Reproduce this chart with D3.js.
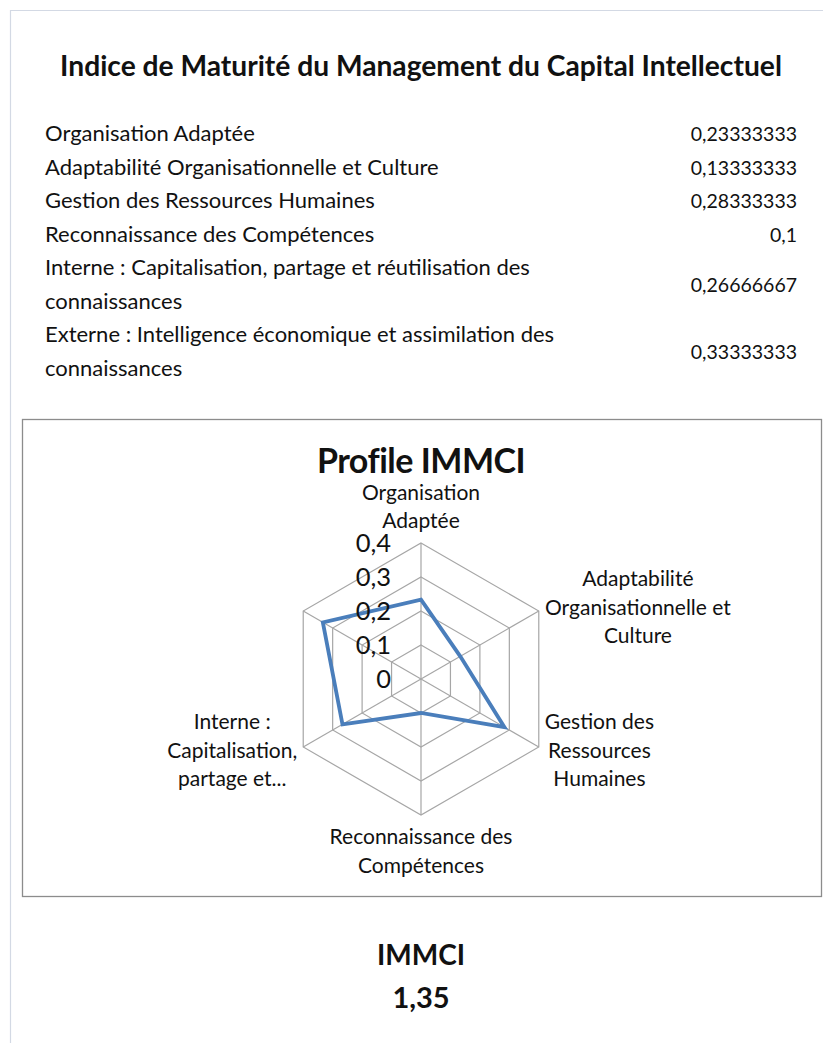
<!DOCTYPE html>
<html>
<head>
<meta charset="utf-8">
<script src="https://cdn.jsdelivr.net/npm/d3@7"></script>
<style>
  html, body { margin: 0; padding: 0; background: #fff; }
  svg { display: block; }
  text { font-family: Lato, "Open Sans", sans-serif; fill: #111; }
</style>
</head>
<body>
<svg id="chart" width="823" height="1043"></svg>
<script>
// ---------- DATA ----------
const pageTitle = "Indice de Maturité du Management du Capital Intellectuel";
const categories = [
  "Organisation Adaptée",
  "Adaptabilité Organisationnelle et Culture",
  "Gestion des Ressources Humaines",
  "Reconnaissance des Compétences",
  "Interne : Capitalisation, partage et réutilisation des connaissances",
  "Externe : Intelligence économique et assimilation des connaissances"
];
const tableLines = [
  ["Organisation Adaptée"],
  ["Adaptabilité Organisationnelle et Culture"],
  ["Gestion des Ressources Humaines"],
  ["Reconnaissance des Compétences"],
  ["Interne : Capitalisation, partage et réutilisation des", "connaissances"],
  ["Externe : Intelligence économique et assimilation des", "connaissances"]
];
const values = [0.23333333, 0.13333333, 0.28333333, 0.1, 0.26666667, 0.33333333];
const valueLabels = ["0,23333333", "0,13333333", "0,28333333", "0,1", "0,26666667", "0,33333333"];
const chartTitle = "Profile IMMCI";
const axisLabels = [
  ["Organisation", "Adaptée"],
  ["Adaptabilité", "Organisationnelle et", "Culture"],
  ["Gestion des", "Ressources", "Humaines"],
  ["Reconnaissance des", "Compétences"],
  ["Interne :", "Capitalisation,", "partage et..."],
  []
];
const ticks = [0, 0.1, 0.2, 0.3, 0.4];
const tickLabels = ["0", "0,1", "0,2", "0,3", "0,4"];
const totalLabel = "IMMCI";
const totalValue = "1,35";

// ---------- DRAW ----------
const svg = d3.select("#chart");
svg.append("rect").attr("width", 823).attr("height", 1043).attr("fill", "#fff");

// sheet frame
svg.append("path").attr("d", "M10.5,1043 V10.5 H823")
  .attr("fill", "none").attr("stroke", "#d3d9e4").attr("stroke-width", 1.2);

// page title
svg.append("text").attr("x", 421).attr("y", 76)
  .attr("text-anchor", "middle").attr("font-weight", "bold")
  .attr("font-size", 28.2).text(pageTitle);

// table
const rowY = d3.scaleLinear().domain([0, 1]).range([141, 174.5]); // line index -> baseline
let line = 0;
const table = svg.append("g");
tableLines.forEach((lines, i) => {
  const first = line;
  lines.forEach(t => {
    table.append("text").attr("x", 45).attr("y", rowY(line))
      .attr("font-size", 22).text(t);
    line++;
  });
  const mid = (rowY(first) + rowY(line - 1)) / 2;
  table.append("text").attr("x", 797).attr("y", mid)
    .attr("text-anchor", "end").attr("font-size", 19.5).text(valueLabels[i]);
});

// chart box
svg.append("rect").attr("x", 22.5).attr("y", 419.5).attr("width", 799).attr("height", 477)
  .attr("fill", "#fff").attr("stroke", "#8c8c8c").attr("stroke-width", 1.3);

svg.append("text").attr("x", 421).attr("y", 473)
  .attr("text-anchor", "middle").attr("font-weight", "bold")
  .attr("font-size", 34).attr("letter-spacing", -0.5).text(chartTitle);

// radar
const cx = 421, cy = 679;
const r = d3.scaleLinear().domain([0, 0.4]).range([0, 136]);
const angle = d3.scaleLinear().domain([0, categories.length]).range([0, 2 * Math.PI]);
const pt = (i, v) => [cx + r(v) * Math.sin(angle(i)), cy - r(v) * Math.cos(angle(i))];

const g = svg.append("g");
const idx = d3.range(categories.length);

// grid rings
ticks.filter(t => t > 0).forEach(t => {
  g.append("path")
    .attr("d", d3.line().curve(d3.curveLinearClosed)(idx.map(i => pt(i, t))))
    .attr("fill", "none").attr("stroke", "#a6a6a6").attr("stroke-width", 1.2);
});
// spokes
idx.forEach(i => {
  const p = pt(i, d3.max(ticks));
  g.append("line").attr("x1", cx).attr("y1", cy).attr("x2", p[0]).attr("y2", p[1])
    .attr("stroke", "#a6a6a6").attr("stroke-width", 1.2);
});

// series
g.append("path")
  .attr("d", d3.lineRadial().curve(d3.curveLinearClosed)
    .angle((d, i) => angle(i)).radius(d => r(d))(values))
  .attr("transform", `translate(${cx},${cy})`)
  .attr("fill", "none").attr("stroke", "#4a7ebb").attr("stroke-width", 3.8)
  .attr("stroke-linejoin", "miter");

// tick labels
ticks.forEach((t, i) => {
  g.append("text").attr("x", 391).attr("y", cy - r(t) + 9)
    .attr("text-anchor", "end").attr("font-size", 25.5).attr("fill", "#222")
    .text(tickLabels[i]);
});

// axis labels
const lh = 28.5;
axisLabels.forEach((lines, i) => {
  if (!lines.length) return;
  const lg = g.append("g");
  lines.forEach((t, k) => {
    lg.append("text").attr("x", 0).attr("y", k * lh)
      .attr("text-anchor", "middle").attr("font-size", 21).text(t);
  });
  const bb = lg.node().getBBox();
  const p = pt(i, d3.max(ticks));
  const s = Math.sin(angle(i)), c = Math.cos(angle(i));
  let tx, ty;
  const n = lines.length;
  if (Math.abs(s) < 0.01) {
    tx = p[0];
    if (c > 0) ty = p[1] - 15 - (n - 1) * lh; // above
    else ty = p[1] + 29; // below
  } else {
    const gap = 6;
    tx = s > 0 ? p[0] + gap + bb.width / 2 : p[0] - gap - bb.width / 2;
    ty = p[1] - (n - 1) * lh / 2 - c * 7 + 7;
  }
  lg.attr("transform", `translate(${tx},${ty})`);
});

// totals
svg.append("text").attr("x", 421).attr("y", 965)
  .attr("text-anchor", "middle").attr("font-weight", "bold")
  .attr("font-size", 28).text(totalLabel);
svg.append("text").attr("x", 421).attr("y", 1008)
  .attr("text-anchor", "middle").attr("font-weight", "bold")
  .attr("font-size", 29).text(totalValue);
</script>
</body>
</html>
